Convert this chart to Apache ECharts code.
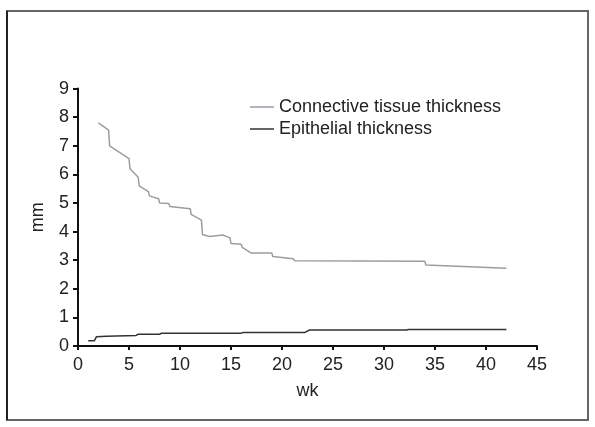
<!DOCTYPE html>
<html>
<head>
<meta charset="utf-8">
<script src="https://cdn.jsdelivr.net/npm/echarts@6/dist/echarts.min.js"></script>
<style>
html,body{margin:0;padding:0;background:#fff;}
#chart{width:595px;height:427px;}
</style>
</head>
<body>
<div id="chart"></div>
<script>
// Data (week, mm)
var seriesNames = ['Connective tissue thickness', 'Epithelial thickness'];
var connectiveTissue = [
  [2.0,7.8],[3.0,7.55],[3.1,7.0],[5.0,6.55],[5.1,6.2],[5.9,5.9],[6.0,5.6],[6.9,5.4],
  [7.0,5.25],[7.9,5.15],[8.0,5.0],[8.9,4.98],[9.0,4.88],[11.0,4.8],[11.1,4.6],[12.1,4.4],
  [12.2,3.9],[12.9,3.83],[14.2,3.88],[14.9,3.78],[15.0,3.58],[16.0,3.56],[16.1,3.45],
  [17.0,3.25],[19.0,3.25],[19.1,3.13],[21.1,3.05],[21.25,2.98],[34.0,2.96],[34.1,2.83],[42.0,2.72]
];
var epithelial = [
  [1.0,0.18],[1.6,0.18],[1.8,0.32],[2.8,0.34],[5.7,0.37],[5.9,0.41],[8.0,0.41],[8.2,0.45],
  [16.0,0.45],[16.2,0.47],[22.2,0.47],[22.7,0.56],[32.2,0.56],[32.4,0.58],[42.0,0.58]
];
var xTicks = {min:0, max:45, interval:5};
var yTicks = {min:0, max:9, interval:1};

var font = 'Liberation Sans, Arial, sans-serif';
var chart = echarts.init(document.getElementById('chart'), null, {renderer:'canvas'});
chart.setOption({
  animation:false,
  backgroundColor:'#fff',
  graphic:[
    {type:'rect', shape:{x:7,y:11,width:581,height:409}, style:{fill:'none', stroke:'#666', lineWidth:2}, z:-1},
    {type:'line', shape:{x1:7,y1:11,x2:7,y2:420}, style:{stroke:'#222', lineWidth:2}, z:-1}
  ],
  grid:{left:78, right:58, top:88.6, bottom:81, containLabel:false},
  legend:{
    orient:'vertical', left:245, top:93, itemWidth:24, itemHeight:1.5, icon:'rect', itemGap:4,
    textStyle:{fontFamily:font, fontSize:18, color:'#222'},
    data:seriesNames
  },
  xAxis:{
    type:'value', min:xTicks.min, max:xTicks.max, interval:xTicks.interval,
    name:'wk', nameLocation:'middle', nameGap:36,
    nameTextStyle:{fontFamily:font, fontSize:18, color:'#222'},
    axisLine:{lineStyle:{color:'#111', width:2}},
    axisTick:{show:true, length:4, lineStyle:{color:'#111', width:2}},
    axisLabel:{fontFamily:font, fontSize:18, color:'#222', margin:10},
    splitLine:{show:false}
  },
  yAxis:{
    type:'value', min:yTicks.min, max:yTicks.max, interval:yTicks.interval,
    name:'mm', nameLocation:'middle', nameGap:31,
    nameTextStyle:{fontFamily:font, fontSize:18, color:'#222'},
    axisLine:{show:true, lineStyle:{color:'#111', width:2}},
    axisTick:{show:true, length:5, lineStyle:{color:'#111', width:2}},
    axisLabel:{fontFamily:font, fontSize:18, color:'#222', margin:9},
    splitLine:{show:false}
  },
  series:[
    {name:seriesNames[0], type:'line', data:connectiveTissue, showSymbol:false, symbol:'none',
     lineStyle:{color:'#9a9ea3', width:1.5}, itemStyle:{color:'#9a9ea3'}},
    {name:seriesNames[1], type:'line', data:epithelial, showSymbol:false, symbol:'none',
     lineStyle:{color:'#333', width:1.5}, itemStyle:{color:'#333'}}
  ]
});
</script>
</body>
</html>
